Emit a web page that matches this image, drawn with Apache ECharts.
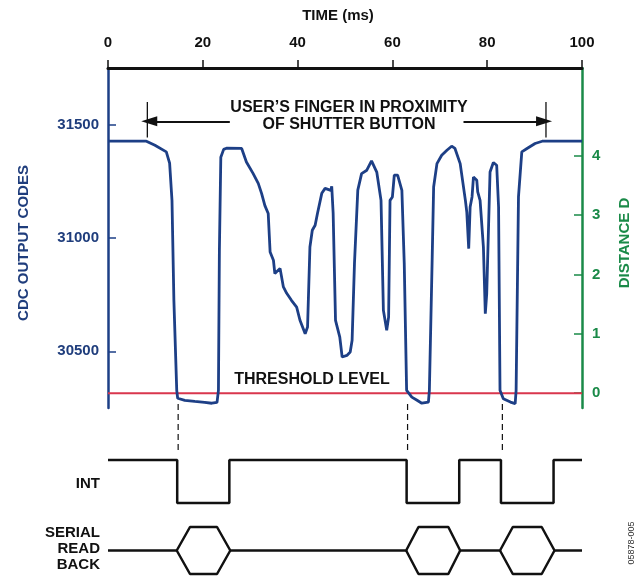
<!DOCTYPE html>
<html>
<head>
<meta charset="utf-8">
<script src="https://cdn.jsdelivr.net/npm/echarts@6/dist/echarts.min.js"></script>
<style>
html,body{margin:0;padding:0;background:#fff;}
#c{width:642px;height:578px;}
</style>
</head>
<body>
<div id="c"></div>
<script>
// ---- data ----
var timeMs = [0, 8.1, 9.9, 12.3, 13.0, 13.5, 13.9, 14.5, 14.7, 16.2,
  18.3, 20.4, 21.9, 23.0, 23.3, 23.5, 23.8, 24.4, 25.0, 28.2,
  29.2, 30.6, 31.7, 32.4, 33.1, 33.8, 34.2, 34.9, 35.2, 36.3,
  37.0, 37.7, 38.7, 39.8, 40.5, 41.6, 42.1, 42.6, 43.1, 43.7,
  44.2, 45.1, 45.8, 47.0, 47.2, 47.5, 48.0, 48.9, 49.4, 50.4,
  51.1, 51.5, 52.0, 52.7, 53.5, 54.6, 55.6, 56.7, 57.6, 58.1,
  58.8, 59.2, 59.5, 60.0, 60.4, 61.1, 62.0, 62.5, 63.0, 64.1,
  65.2, 66.2, 67.6, 67.8, 68.4, 68.7, 69.4, 70.4, 71.5, 72.5,
  73.2, 74.3, 75.4, 75.7, 76.1, 76.4, 76.8, 77.1, 77.8, 78.0,
  78.5, 79.2, 79.6, 79.9, 80.6, 81.3, 82.0, 82.4, 82.7, 83.4,
  84.9, 85.9, 86.1, 86.6, 87.3, 88.4, 90.1, 91.6, 100];
var cdcCodes = [31427, 31427, 31409, 31380, 31330, 31166, 30725, 30328, 30293, 30284,
  30279, 30275, 30271, 30275, 30328, 30946, 31356, 31391, 31396, 31395,
  31335, 31285, 31241, 31197, 31143, 31108, 30938, 30902, 30843, 30866,
  30784, 30756, 30725, 30695, 30637, 30578, 30607, 30960, 31034, 31056,
  31109, 31197, 31219, 31210, 31228, 31109, 30637, 30563, 30475, 30482,
  30497, 30549, 30888, 31211, 31284, 31299, 31340, 31291, 31166, 30681,
  30593, 30651, 31166, 31181, 31277, 31277, 31210, 30888, 30328, 30298,
  30284, 30271, 30276, 30328, 30916, 31225, 31328, 31365, 31387, 31405,
  31395, 31328, 31166, 31113, 30953, 31137, 31181, 31269, 31255, 31203,
  31166, 30960, 30666, 30755, 31291, 31333, 31321, 31137, 30328, 30291,
  30276, 30269, 30328, 31181, 31380, 31395, 31417, 31427, 31427];
var timeTicks = [0, 20, 40, 60, 80, 100];
var cdcTicks = [30500, 31000, 31500];
var distanceTicks = [0, 1, 2, 3, 4];
var thresholdDistance = 0;

// annotation: finger-in-proximity span (ms) and arrow/bar levels (CDC codes)
var proximityStart = 8.3, proximityEnd = 92.4;
var arrowTailLeft = 25.7, arrowTipLeft = 8.7;
var arrowTailRight = 75.0, arrowTipRight = 92.0;
var arrowLevel = 31515, barTop = 31600, barBottom = 31443;

// INT waveform (ms, logic level)
var intTimes  = [0, 14.6, 14.6, 25.6, 25.6, 63.0, 63.0, 74.1, 74.1, 82.9, 82.9, 94.0, 94.0, 100];
var intLevels = [1, 1,    0,    0,    1,    1,    0,    0,    1,    1,    0,    0,    1,    1];
// serial read-back bursts (ms): start, top-left corner, top-right corner, end
var readStart = [14.5, 62.9, 82.7];
var readTopL  = [17.3, 65.5, 85.4];
var readTopR  = [23.0, 71.8, 91.5];
var readEnd   = [25.8, 74.3, 94.2];
// dashed markers (ms)
var markerTimes = [14.8, 63.2, 83.2];

// ---- build ----
var BLUE = '#1d3f86', BLUE_TXT = '#1f3d7c', GREEN = '#1a8a48', RED = '#d9364d', BLACK = '#111';
var FONT = '"Liberation Sans", Arial, Helvetica, sans-serif';

var cdcData = timeMs.map(function (t, i) { return [t, cdcCodes[i]]; });
var intData = intTimes.map(function (t, i) { return [t, intLevels[i]]; });

var upper = [[0, 0]], lower = [];
for (var i = 0; i < readStart.length; i++) {
  upper.push([readStart[i], 0], [readTopL[i], 1], [readTopR[i], 1], [readEnd[i], 0]);
  lower.push([readStart[i], 0], [readTopL[i], -1], [readTopR[i], -1], [readEnd[i], 0], '-');
}
upper.push([100, 0]);

var gridLeft = 108, gridWidth = 474;
var hiddenX = function (gi) { return {type: 'value', gridIndex: gi, min: 0, max: 100, show: false}; };

var series = [
  {type: 'line', xAxisIndex: 0, yAxisIndex: 1, data: [[0, thresholdDistance], [100, thresholdDistance]],
   symbol: 'none', lineStyle: {color: RED, width: 2}, z: 2, silent: true, animation: false},
  {type: 'line', xAxisIndex: 0, yAxisIndex: 0, data: cdcData, symbol: 'none',
   lineStyle: {color: BLUE, width: 2.8}, z: 3, animation: false},
  {type: 'line', xAxisIndex: 0, yAxisIndex: 0, data: [[proximityStart, barTop], [proximityStart, barBottom]],
   symbol: 'none', lineStyle: {color: BLACK, width: 1.3}, animation: false,
   markLine: {silent: true, animation: false, symbol: ['none', 'triangle'], symbolSize: [1, 1],
     lineStyle: {color: BLACK, width: 2, type: 'solid'}, label: {show: false},
     data: [
       [{coord: [arrowTailLeft, arrowLevel], symbol: 'none'}, {coord: [arrowTipLeft, arrowLevel], symbol: 'triangle', symbolSize: [10, 16]}],
       [{coord: [arrowTailRight, arrowLevel], symbol: 'none'}, {coord: [arrowTipRight, arrowLevel], symbol: 'triangle', symbolSize: [10, 16]}]
     ]}},
  {type: 'line', xAxisIndex: 0, yAxisIndex: 0, data: [[proximityEnd, barTop], [proximityEnd, barBottom]],
   symbol: 'none', lineStyle: {color: BLACK, width: 1.3}, animation: false},
  {type: 'line', xAxisIndex: 2, yAxisIndex: 3, data: intData, symbol: 'none', clip: false,
   lineStyle: {color: BLACK, width: 2.5}, animation: false},
  {type: 'line', xAxisIndex: 3, yAxisIndex: 4, data: upper, symbol: 'none', clip: false,
   lineStyle: {color: BLACK, width: 2.5}, animation: false},
  {type: 'line', xAxisIndex: 3, yAxisIndex: 4, data: lower, symbol: 'none', clip: false, connectNulls: false,
   lineStyle: {color: BLACK, width: 2.5}, animation: false}
];
markerTimes.forEach(function (t) {
  series.push({type: 'line', xAxisIndex: 1, yAxisIndex: 2, data: [[t, 0], [t, 1]], symbol: 'none', clip: false,
    lineStyle: {color: BLACK, width: 1.2, type: [6, 4]}, animation: false});
});

var option = {
  backgroundColor: '#fff',
  animation: false,
  grid: [
    {left: gridLeft, width: gridWidth, top: 68, height: 340},
    {left: gridLeft, width: gridWidth, top: 404, height: 46},
    {left: gridLeft, width: gridWidth, top: 460, height: 43},
    {left: gridLeft, width: gridWidth, top: 527, height: 47}
  ],
  xAxis: [
    {type: 'value', gridIndex: 0, position: 'top', min: 0, max: 100, interval: 20,
     axisLine: {show: true, onZero: false, lineStyle: {color: BLACK, width: 3}},
     axisTick: {show: true, inside: false, length: 8, lineStyle: {color: BLACK, width: 1.5}},
     axisLabel: {show: true, margin: 18, color: BLACK, fontWeight: 'bold', fontSize: 15, fontFamily: FONT,
       customValues: timeTicks},
     splitLine: {show: false}},
    hiddenX(1), hiddenX(2), hiddenX(3)
  ],
  yAxis: [
    {type: 'value', gridIndex: 0, position: 'left', min: 30250, max: 31750,
     axisLine: {show: true, onZero: false, lineStyle: {color: BLUE, width: 2.5}},
     axisTick: {show: true, inside: true, length: 8, lineStyle: {color: BLUE, width: 1.5}, customValues: cdcTicks},
     axisLabel: {show: true, margin: 9, color: BLUE_TXT, fontWeight: 'bold', fontSize: 15, fontFamily: FONT,
       customValues: cdcTicks, formatter: function (v) { return String(v); }},
     splitLine: {show: false}},
    {type: 'value', gridIndex: 0, position: 'right', min: -0.25, max: 5.48,
     axisLine: {show: true, onZero: false, lineStyle: {color: GREEN, width: 2.5}},
     axisTick: {show: true, inside: true, length: 8, lineStyle: {color: GREEN, width: 1.5}, customValues: distanceTicks},
     axisLabel: {show: true, margin: 10, color: GREEN, fontWeight: 'bold', fontSize: 15, fontFamily: FONT,
       customValues: distanceTicks},
     splitLine: {show: false}},
    {type: 'value', gridIndex: 1, min: 0, max: 1, inverse: true, show: false},
    {type: 'value', gridIndex: 2, min: 0, max: 1, show: false},
    {type: 'value', gridIndex: 3, min: -1, max: 1, show: false}
  ],
  series: series,
  graphic: [
    {type: 'text', x: 338, y: 16, silent: true,
     style: {text: 'TIME (ms)', fill: BLACK, font: 'bold 15px ' + FONT, textAlign: 'center', textVerticalAlign: 'middle'}},
    {type: 'text', x: 24, y: 243, rotation: Math.PI / 2, silent: true,
     style: {text: 'CDC OUTPUT CODES', fill: BLUE_TXT, font: 'bold 15px ' + FONT, textAlign: 'center', textVerticalAlign: 'middle'}},
    {type: 'text', x: 625, y: 243, rotation: Math.PI / 2, silent: true,
     style: {text: 'DISTANCE D', fill: GREEN, font: 'bold 15px ' + FONT, textAlign: 'center', textVerticalAlign: 'middle'}},
    {type: 'text', x: 349, y: 116, silent: true,
     style: {text: 'USER\u2019S FINGER IN PROXIMITY\nOF SHUTTER BUTTON', fill: BLACK, font: 'bold 16px ' + FONT,
       lineHeight: 17, textAlign: 'center', textVerticalAlign: 'middle'}},
    {type: 'text', x: 312, y: 380, silent: true,
     style: {text: 'THRESHOLD LEVEL', fill: BLACK, font: 'bold 16px ' + FONT, textAlign: 'center', textVerticalAlign: 'middle'}},
    {type: 'text', x: 100, y: 484, silent: true,
     style: {text: 'INT', fill: BLACK, font: 'bold 15px ' + FONT, textAlign: 'right', textVerticalAlign: 'middle'}},
    {type: 'text', x: 100, y: 549, silent: true,
     style: {text: 'SERIAL\nREAD\nBACK', fill: BLACK, font: 'bold 15px ' + FONT, lineHeight: 16,
       textAlign: 'right', textVerticalAlign: 'middle'}},
    {type: 'text', x: 632, y: 543, rotation: Math.PI / 2, silent: true,
     style: {text: '05878-005', fill: '#333', font: '9px ' + FONT, textAlign: 'center', textVerticalAlign: 'middle'}}
  ]
};
var chart = echarts.init(document.getElementById('c'), null, {renderer: 'canvas'});
chart.setOption(option);
</script>
</body>
</html>
